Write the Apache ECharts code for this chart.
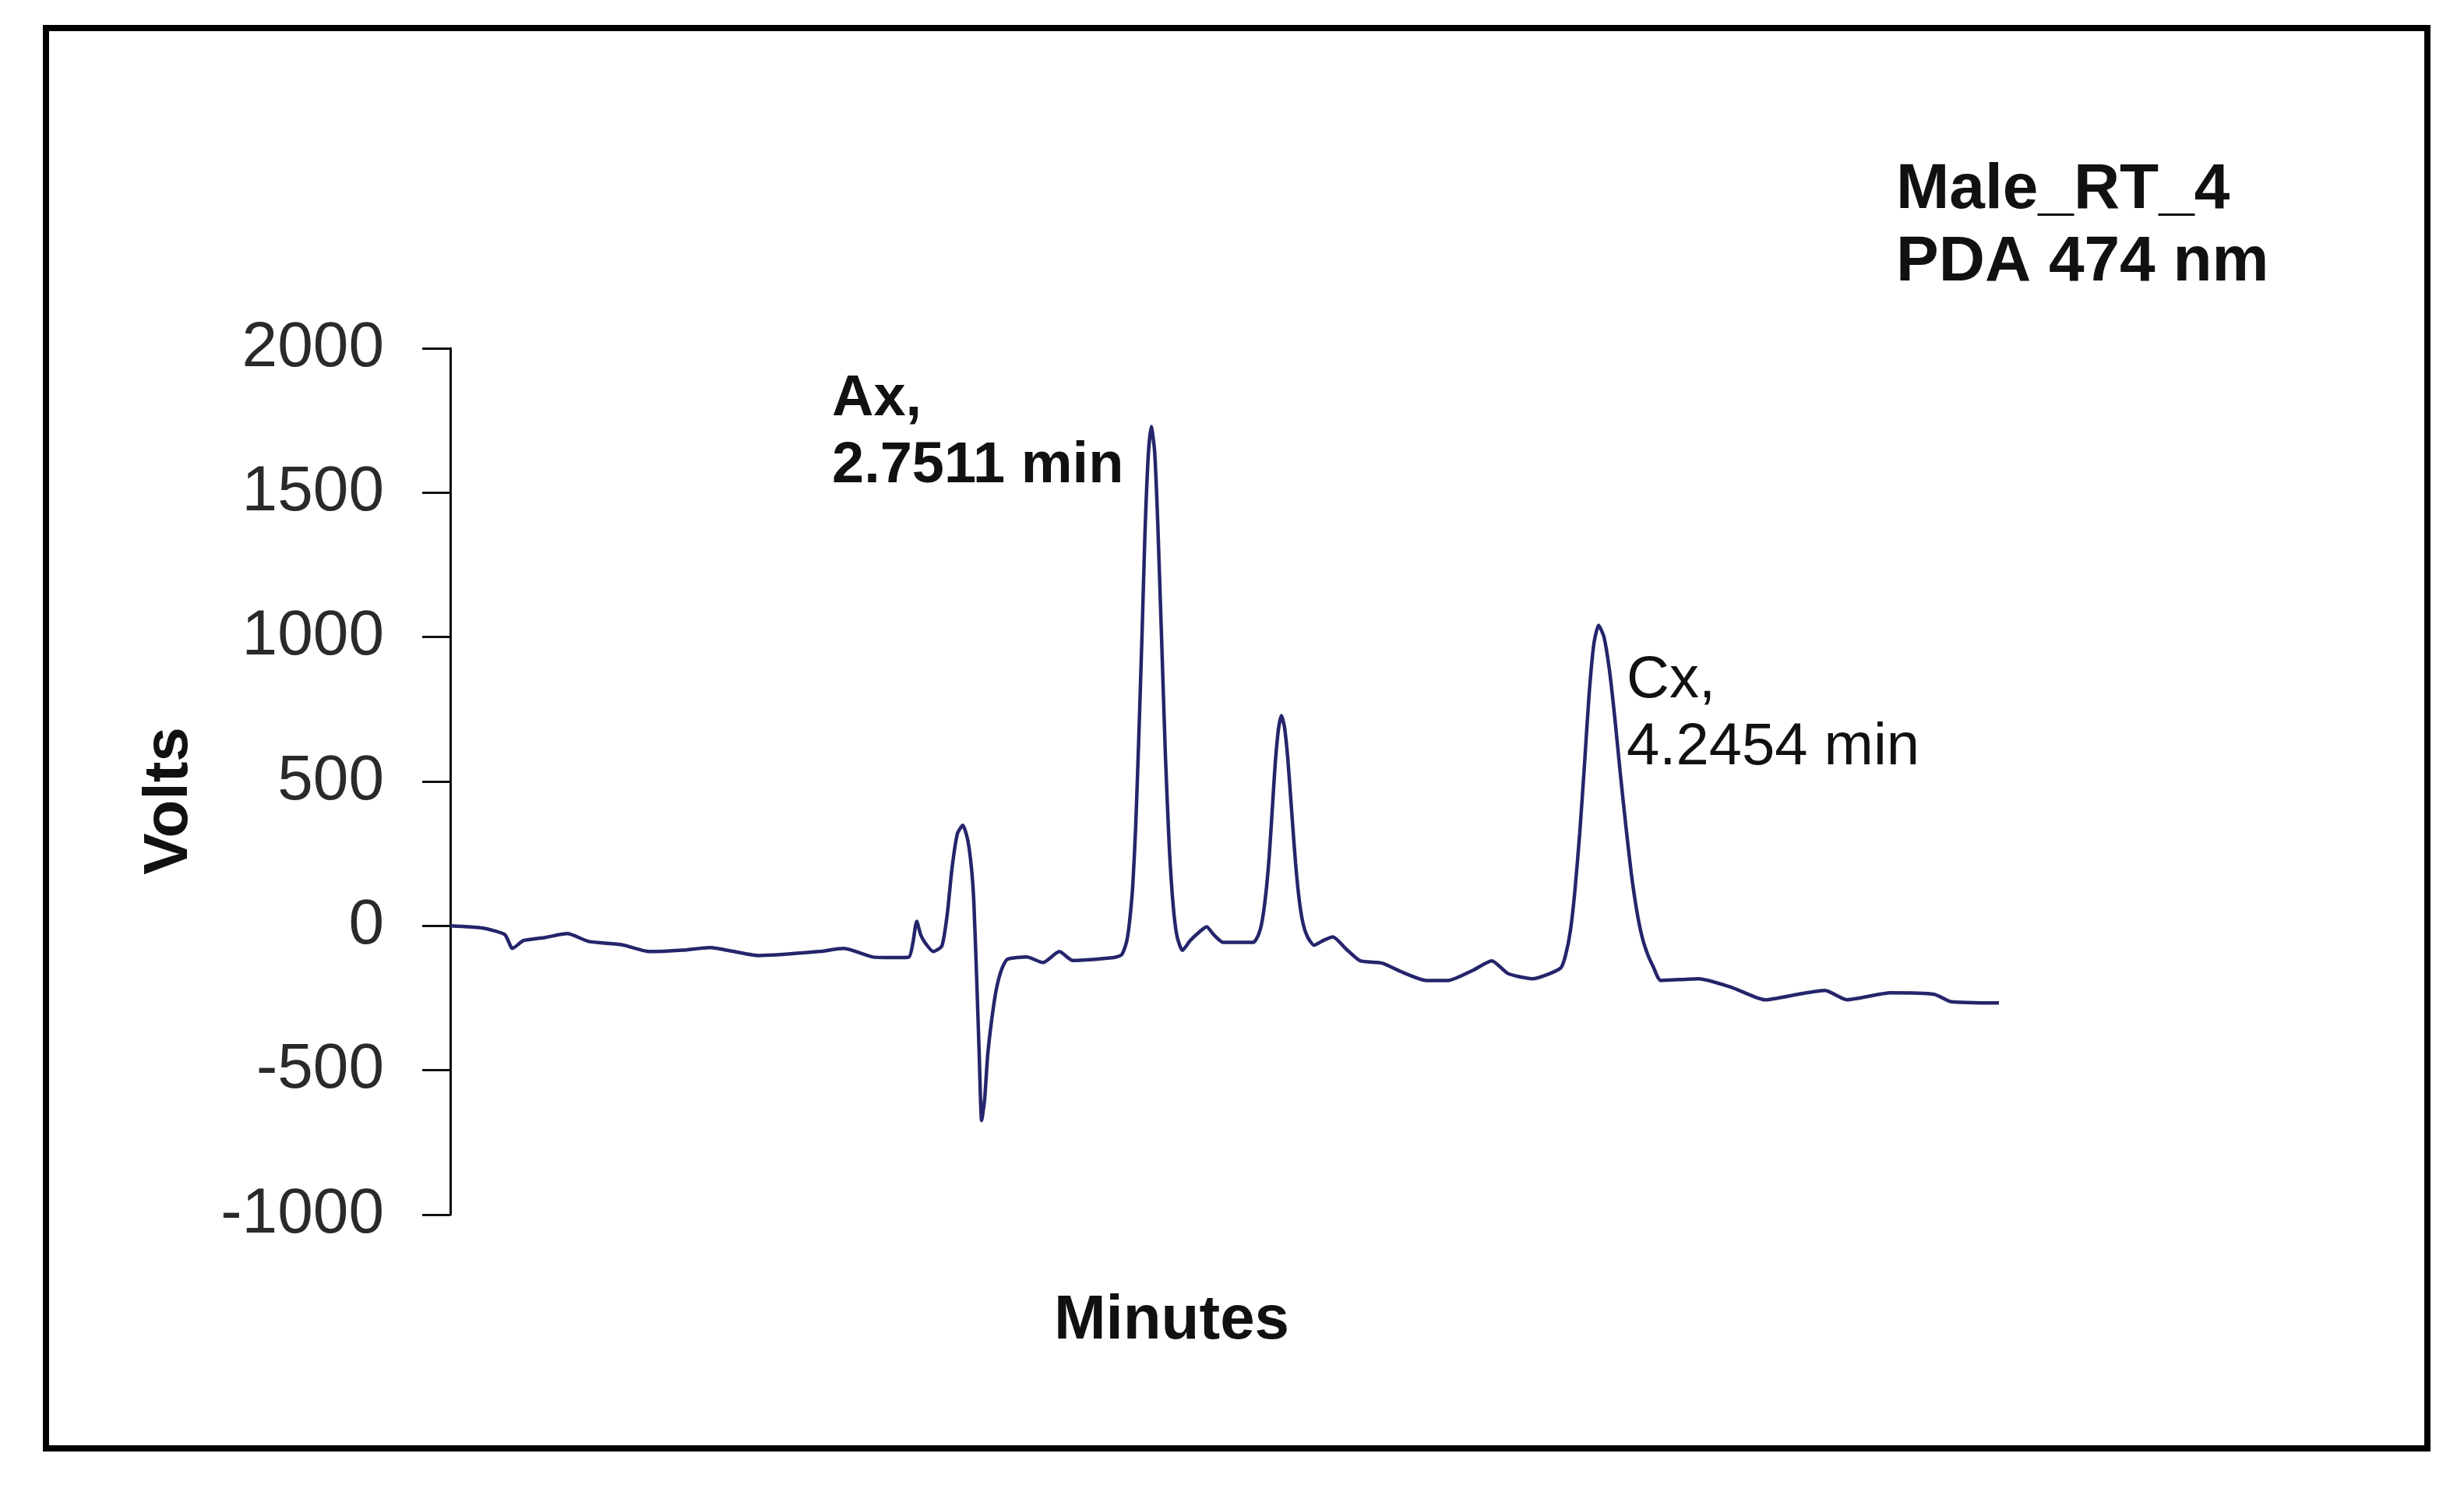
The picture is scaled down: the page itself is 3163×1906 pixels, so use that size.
<!DOCTYPE html>
<html lang="en">
<head>
    <meta charset="UTF-8">
    <title>Male_RT_4 PDA 474 nm</title>
    <script src="https://cdn.jsdelivr.net/npm/echarts@6/dist/echarts.min.js"></script>
    <style>
        html, body { margin: 0; padding: 0; background: #fff; }
        #chart { width: 3163px; height: 1906px; }
    </style>
</head>
<body>
<div id="chart"></div>

<script>
    // retention time (min)
    var minutes = [
        0.408, 0.517, 0.590, 0.616, 0.653, 0.726, 0.799, 0.871, 0.981, 1.074,
        1.184, 1.275, 1.439, 1.639, 1.723, 1.822, 1.895, 1.941, 1.954, 1.967,
        1.980, 1.996, 2.022, 2.051, 2.069, 2.085, 2.103, 2.121, 2.137, 2.150,
        2.158, 2.168, 2.176, 2.184, 2.194, 2.204, 2.217, 2.233, 2.251, 2.270,
        2.335, 2.389, 2.444, 2.488, 2.626, 2.652, 2.668, 2.678, 2.689, 2.699,
        2.709, 2.720, 2.730, 2.741, 2.751, 2.762, 2.772, 2.785, 2.798, 2.811,
        2.824, 2.837, 2.855, 2.881, 2.913, 2.936, 2.959, 2.991, 3.060, 3.092,
        3.108, 3.121, 3.134, 3.145, 3.155, 3.165, 3.176, 3.186, 3.196, 3.207,
        3.220, 3.233, 3.246, 3.259, 3.274, 3.295, 3.327, 3.358, 3.402, 3.449,
        3.522, 3.589, 3.670, 3.743, 3.824, 3.889, 3.943, 4.024, 4.071, 4.120,
        4.136, 4.152, 4.167, 4.183, 4.199, 4.214, 4.230, 4.246, 4.264, 4.282,
        4.300, 4.318, 4.337, 4.355, 4.373, 4.391, 4.410, 4.428, 4.454, 4.581,
        4.691, 4.803, 4.912, 5.003, 5.076, 5.222, 5.368, 5.422, 5.584
    ];

    // detector signal (Volts)
    var volts = [
        0, -8, -30, -78, -51, -40, -27, -54, -65, -89,
        -84, -75, -103, -89, -78, -108, -110, -108, -60, 16,
        -30, -60, -89, -70, 40, 200, 320, 348, 300, 200,
        80, -200, -450, -674, -600, -450, -330, -220, -150, -116,
        -108, -127, -89, -120, -110, -100, -57, 11, 138, 348,
        646, 1007, 1364, 1631, 1729, 1645, 1412, 1007, 595, 275,
        72, -36, -85, -51, -20, -3, -30, -57, -57, -57,
        -34, 14, 113, 239, 397, 559, 681, 728, 689, 582,
        399, 219, 85, 4, -40, -67, -50, -38, -80, -121,
        -129, -160, -189, -189, -155, -121, -165, -183, -170, -145,
        -100, -15, 124, 322, 561, 798, 975, 1041, 1000, 887,
        722, 533, 347, 184, 56, -37, -99, -140, -189, -183,
        -213, -256, -237, -224, -256, -232, -237, -262, -267
    ];

    var peakLabels = ['Ax,', '2.7511 min', 'Cx,', '4.2454 min'];
    var sampleLines = ['Male_RT_4', 'PDA 474 nm'];

    var chart = echarts.init(document.getElementById('chart'), null, { renderer: 'canvas' });

    var font = "'Liberation Sans', Arial, sans-serif";
    var trace = minutes.map(function (t, i) { return [t, volts[i]]; });

    var options = {
        backgroundColor: '#ffffff',
        animation: false,
        grid: {
            left: 578,
            right: 597,
            top: 447,
            bottom: 347
        },
        xAxis: {
            type: 'value',
            min: 0.408,
            max: 5.584,
            axisLine: { show: false },
            axisTick: { show: false },
            axisLabel: { show: false },
            splitLine: { show: false }
        },
        yAxis: {
            type: 'value',
            min: -1000,
            max: 2000,
            interval: 500,
            axisLine: { show: true, lineStyle: { color: '#111', width: 3 } },
            axisTick: { show: true, inside: false, length: 36, lineStyle: { color: '#111', width: 3 } },
            axisLabel: {
                margin: 85,
                fontFamily: font,
                fontSize: 82,
                color: '#2a2a2a',
                formatter: function (v) { return String(v); }
            },
            splitLine: { show: false }
        },
        series: [
            {
                name: 'PDA 474 nm',
                type: 'line',
                data: trace,
                showSymbol: false,
                smooth: 0.2,
                lineStyle: { color: '#25256c', width: 4.5 }
            }
        ],
        graphic: [
            // outer frame
            {
                type: 'rect',
                shape: { x: 59, y: 36, width: 3057, height: 1823 },
                style: { fill: null, stroke: '#000', lineWidth: 8 }
            },
            {
                type: 'text', x: 218, y: 1028, rotation: Math.PI / 2,
                style: { text: 'Volts', x: 0, y: 0, font: 'bold 80px ' + font, fill: '#111',
                         textAlign: 'center', textVerticalAlign: 'middle' }
            },
            {
                type: 'text',
                style: { text: 'Minutes', x: 1504, y: 1696, font: 'bold 80px ' + font, fill: '#111',
                         textAlign: 'center', textVerticalAlign: 'middle' }
            },
            {
                type: 'text',
                style: { text: peakLabels[0], x: 1068, y: 513, font: 'bold 74px ' + font, fill: '#111',
                         textAlign: 'left', textVerticalAlign: 'middle' }
            },
            {
                type: 'text',
                style: { text: peakLabels[1], x: 1068, y: 599, font: 'bold 74px ' + font, fill: '#111',
                         textAlign: 'left', textVerticalAlign: 'middle' }
            },
            {
                type: 'text',
                style: { text: peakLabels[2], x: 2088, y: 874, font: '76px ' + font, fill: '#111',
                         textAlign: 'left', textVerticalAlign: 'middle' }
            },
            {
                type: 'text',
                style: { text: peakLabels[3], x: 2088, y: 960, font: '76px ' + font, fill: '#111',
                         textAlign: 'left', textVerticalAlign: 'middle' }
            },
            {
                type: 'text',
                style: { text: sampleLines[0], x: 2434, y: 244, font: 'bold 82px ' + font, fill: '#111',
                         textAlign: 'left', textVerticalAlign: 'middle' }
            },
            {
                type: 'text',
                style: { text: sampleLines[1], x: 2434, y: 337, font: 'bold 82px ' + font, fill: '#111',
                         textAlign: 'left', textVerticalAlign: 'middle' }
            }
        ]
    };

    chart.setOption(options);
</script>
</body>
</html>
